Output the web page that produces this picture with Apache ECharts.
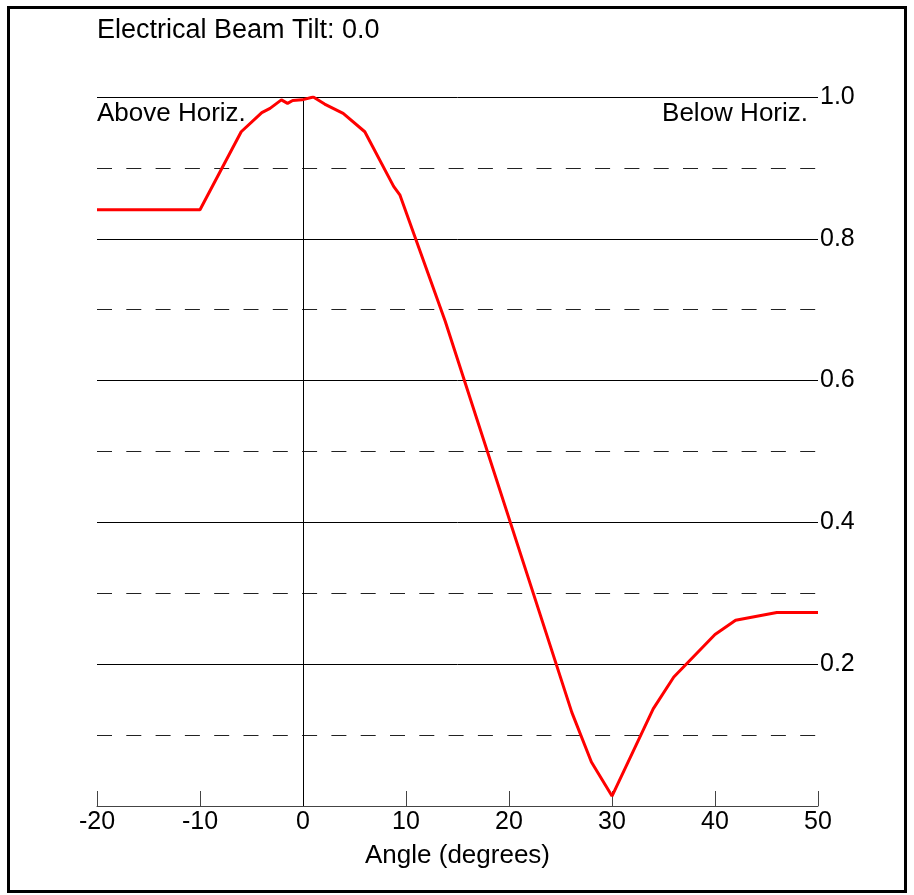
<!DOCTYPE html>
<html>
<head>
<meta charset="utf-8">
<script src="https://cdn.jsdelivr.net/npm/echarts@6/dist/echarts.min.js"></script>
<style>
html,body{margin:0;padding:0;background:#fff;}
#chart{width:914px;height:895px;}
</style>
</head>
<body>
<div id="chart"></div>
<script>
var angles = [-20, -10, -6, -4, -3.2, -2.1, -1.5, -1, -0.1, 1, 2.1, 3.9, 6, 8.8, 9.4, 13.8, 26.1, 28.0, 30, 34, 36, 40, 42, 46, 50];
var gains  = [0.841, 0.841, 0.951, 0.978, 0.984, 0.996, 0.991, 0.995, 0.996, 1.0, 0.990, 0.977, 0.951, 0.874, 0.862, 0.684, 0.132, 0.062, 0.014, 0.137, 0.182, 0.242, 0.262, 0.273, 0.273];
var xTicks = [-20, -10, 0, 10, 20, 30, 40, 50];
var yTicks = [0.2, 0.4, 0.6, 0.8, 1.0];
var titleText = 'Electrical Beam Tilt: 0.0';
var leftNote = 'Above Horiz.';
var rightNote = 'Below Horiz.';
var xName = 'Angle (degrees)';

var FONT = '"Liberation Sans", Arial, sans-serif';
var chart = echarts.init(document.getElementById('chart'), null, {renderer: 'canvas'});
var data = angles.map(function (a, i) { return [a, gains[i]]; });

chart.setOption({
  animation: false,
  backgroundColor: '#fff',
  grid: {left: 97, right: 96, top: 97, bottom: 89, containLabel: false},
  xAxis: {
    type: 'value', min: -20, max: 50, interval: 10,
    name: xName, nameLocation: 'middle', nameGap: 37,
    nameTextStyle: {fontFamily: FONT, fontSize: 26, color: '#000'},
    axisLine: {show: true, onZero: false, lineStyle: {color: '#444', width: 1}},
    axisTick: {show: true, inside: true, length: 15, lineStyle: {color: '#444', width: 1}},
    axisLabel: {margin: 4, fontFamily: FONT, fontSize: 25, color: '#000',
      formatter: function (v) { return xTicks.indexOf(v) >= 0 ? String(v) : ''; }},
    splitLine: {show: false}
  },
  yAxis: {
    type: 'value', position: 'right', min: 0, max: 1, interval: 0.2,
    axisLine: {show: false}, axisTick: {show: false},
    axisLabel: {margin: 2, fontFamily: FONT, fontSize: 25, color: '#000',
      formatter: function (v) {
        for (var i = 0; i < yTicks.length; i++) { if (Math.abs(yTicks[i] - v) < 1e-6) return yTicks[i].toFixed(1); }
        return '';
      }},
    splitLine: {show: true, lineStyle: {color: '#000', width: 1, type: 'solid'}},
    minorTick: {show: false, splitNumber: 2},
    minorSplitLine: {show: true, lineStyle: {color: '#222', width: 1, type: [15, 14.3]}}
  },
  graphic: [
    {type: 'rect', shape: {x: 8.5, y: 7.5, width: 897, height: 884}, style: {fill: 'none', stroke: '#000', lineWidth: 3}, silent: true},
    {type: 'text', x: 97, y: 31, style: {text: titleText, font: '27px ' + FONT, fill: '#000', verticalAlign: 'middle', align: 'left'}},
    {type: 'text', x: 97, y: 114, style: {text: leftNote, font: '26px ' + FONT, fill: '#000', verticalAlign: 'middle', align: 'left'}},
    {type: 'text', x: 808, y: 114, style: {text: rightNote, font: '26px ' + FONT, fill: '#000', verticalAlign: 'middle', align: 'right'}}
  ],
  series: [{
    type: 'line', data: data, showSymbol: false, symbol: 'none',
    lineStyle: {color: '#ff0000', width: 3},
    z: 5,
    markLine: {
      silent: true, symbol: ['none', 'none'], label: {show: false},
      lineStyle: {color: '#000', width: 1, type: 'solid'},
      data: [{xAxis: 0}]
    }
  }]
});
</script>
</body>
</html>
